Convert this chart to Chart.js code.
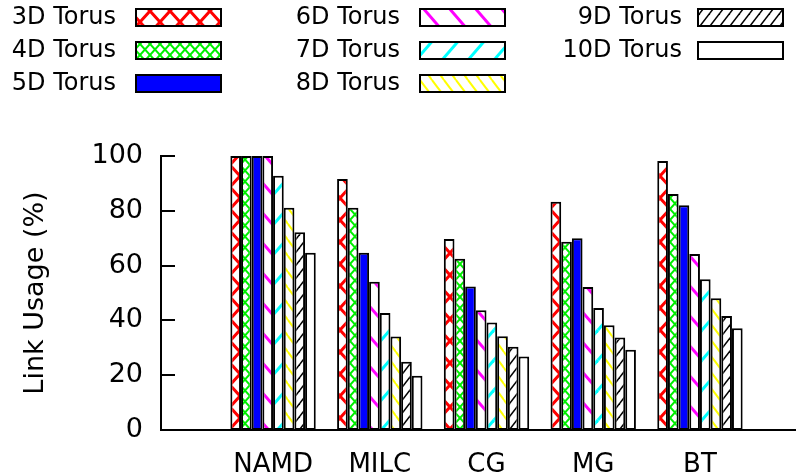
<!DOCTYPE html>
<html>
<head>
<meta charset="utf-8">
<script src="https://cdn.jsdelivr.net/npm/chart.js@4/dist/chart.umd.min.js"></script>
<style>
  html, body { margin: 0; padding: 0; background: #fff; }
  #wrap { width: 796px; height: 474px; position: relative; }
</style>
</head>
<body>
<div id="wrap"><canvas id="js--chart--1"></canvas></div>
<script>
const categories = ['NAMD', 'MILC', 'CG', 'MG', 'BT'];
const seriesLabels = ['3D Torus', '4D Torus', '5D Torus', '6D Torus', '7D Torus', '8D Torus', '9D Torus', '10D Torus'];

// link usage in percent, one array per torus dimension
const torus3D = [100, 91.6, 69.7, 83.3, 98.2];
const torus4D = [100, 81.1, 62.5, 68.7, 86.1];
const torus5D = [100, 64.7, 52.4, 70.0, 82.0];
const torus6D = [100, 54.1, 43.7, 52.2, 64.2];
const torus7D = [92.8, 42.7, 39.2, 44.5, 55.0];
const torus8D = [81.1, 34.1, 34.2, 38.2, 48.1];
const torus9D = [72.2, 24.9, 30.4, 33.8, 41.6];
const torus10D = [64.7, 19.8, 26.8, 29.3, 37.1];

const yTicks = [0, 20, 40, 60, 80, 100];

const FONT = '"DejaVu Sans", sans-serif';
Chart.defaults.color = '#000';
Chart.defaults.font.family = FONT;

// hatch fills, kind is '\\', '/', 'x', 'solid' or 'none'
function makePattern(color, w, h, lw, kind) {
    if (kind === 'solid') return color;
    if (kind === 'none') return '#ffffff';
    const c = document.createElement('canvas');
    c.width = w;
    c.height = h;
    const ctx = c.getContext('2d');
    ctx.fillStyle = '#ffffff';
    ctx.fillRect(0, 0, w, h);
    ctx.strokeStyle = color;
    ctx.lineWidth = lw;
    for (let dx = -w; dx <= w; dx += w) {
        for (let dy = -h; dy <= h; dy += h) {
            ctx.beginPath();
            if (kind === '\\' || kind === 'x') {
                ctx.moveTo(dx, dy);
                ctx.lineTo(dx + w, dy + h);
            }
            if (kind === '/' || kind === 'x') {
                ctx.moveTo(dx, dy + h);
                ctx.lineTo(dx + w, dy);
            }
            ctx.stroke();
        }
    }
    return c.getContext('2d').createPattern(c, 'repeat');
}

const fills = [
    makePattern('#ff0000', 20, 22, 3, 'x'),
    makePattern('#00ee00', 10, 11, 2, 'x'),
    makePattern('#0000ff', 0, 0, 0, 'solid'),
    makePattern('#ff00ff', 26, 30, 3, '\\'),
    makePattern('#00ffff', 26, 30, 3, '/'),
    makePattern('#ffff00', 12, 16, 2, '\\'),
    makePattern('#000000', 10, 13, 1.5, '/'),
    makePattern('#000000', 0, 0, 0, 'none'),
];

const seriesValues = [torus3D, torus4D, torus5D, torus6D, torus7D, torus8D, torus9D, torus10D];

const datasets = seriesLabels.map(function (label, i) {
    return {
        label: label,
        data: seriesValues[i].map(function (v, j) { return { x: j, y: v }; }),
        backgroundColor: fills[i],
        borderColor: '#000',
        borderWidth: 2,
        borderSkipped: false,
        categoryPercentage: 0.8,
        barPercentage: 1.0,
    };
});

// three-column key: text right-aligned, swatch to its right
const keyPlugin = {
    id: 'key',
    afterDraw(chart) {
        const ctx = chart.ctx;
        const textRight = [116, 400, 682];
        const boxLeft = [136, 420, 698];
        ctx.save();
        ctx.font = '24px ' + FONT;
        ctx.textAlign = 'right';
        ctx.textBaseline = 'middle';
        chart.data.datasets.forEach(function (ds, i) {
            const col = Math.floor(i / 3);
            const row = i % 3;
            const top = 9 + row * 33;
            ctx.fillStyle = '#000';
            ctx.fillText(ds.label, textRight[col], top + 9);
            ctx.fillStyle = ds.backgroundColor;
            ctx.fillRect(boxLeft[col], top, 85, 17);
            ctx.strokeStyle = '#000';
            ctx.lineWidth = 2;
            ctx.strokeRect(boxLeft[col], top, 85, 17);
        });
        ctx.restore();
    }
};

// y tick marks pointing into the plot
const innerTicks = {
    id: 'innerTicks',
    afterDraw(chart) {
        const ctx = chart.ctx;
        const y = chart.scales.y;
        ctx.save();
        ctx.strokeStyle = '#000';
        ctx.lineWidth = 2;
        y.ticks.forEach(function (t) {
            const py = Math.round(y.getPixelForValue(t.value));
            ctx.beginPath();
            ctx.moveTo(y.right, py);
            ctx.lineTo(y.right + 14, py);
            ctx.stroke();
        });
        ctx.restore();
    }
};

const config = {
    type: 'bar',
    data: { datasets: datasets },
    options: {
        responsive: true,
        maintainAspectRatio: false,
        devicePixelRatio: 1,
        animation: false,
        layout: { padding: { top: 156, left: 16, right: 0, bottom: 0 } },
        plugins: {
            legend: { display: false },
            tooltip: { enabled: false },
        },
        scales: {
            x: {
                type: 'linear',
                min: -1.05,
                max: 4.9,
                offset: false,
                grid: { display: false, drawTicks: false },
                border: { display: true, color: '#000', width: 2 },
                ticks: {
                    padding: 20,
                    font: { size: 26 },
                    callback: function (v) { return categories[v]; },
                },
                afterBuildTicks: function (scale) {
                    scale.ticks = categories.map(function (c, i) { return { value: i }; });
                },
                afterFit: function (scale) { scale.height = 44; },
            },
            y: {
                min: 0,
                max: 100,
                grid: { display: false, drawTicks: false },
                border: { display: true, color: '#000', width: 2 },
                ticks: { padding: 18, font: { size: 27 } },
                afterBuildTicks: function (scale) {
                    scale.ticks = yTicks.map(function (v) { return { value: v }; });
                },
                title: {
                    display: true,
                    text: 'Link Usage (%)',
                    font: { size: 27 },
                    padding: { top: 4, bottom: 0 },
                },
                afterFit: function (scale) { scale.width = 145; },
            },
        },
    },
    plugins: [keyPlugin, innerTicks],
};

new Chart(document.getElementById('js--chart--1'), config);
</script>
</body>
</html>
